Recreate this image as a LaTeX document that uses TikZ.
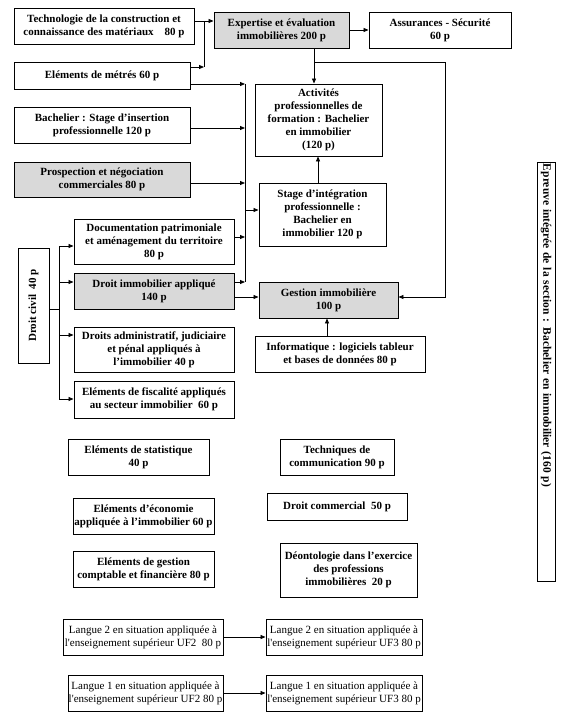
\documentclass[tikz,border=0pt]{standalone}
\usepackage{fontspec}
\setmainfont{Liberation Serif}
\usetikzlibrary{arrows.meta}
\tikzset{
  box/.style={draw, line width=0.9pt, inner sep=0pt, align=center, font=\fontsize{11}{13}\selectfont\bfseries},
  gbox/.style={box, fill=black!15},
  lbox/.style={box, font=\fontsize{11}{13}\selectfont},
  arr/.style={line width=0.8pt, -{Triangle[length=5pt,width=4pt]}},
  ln/.style={line width=0.8pt},
}
\begin{document}
\begin{tikzpicture}[x=1pt,y=-1pt]
\fill[white] (0,0) rectangle (572,719);
\useasboundingbox (0,0) rectangle (572,719);
% top row
\node[box, minimum width=180, minimum height=36] (tech) at (104,26) {Technologie de la construction et\\connaissance des matériaux\quad 80 p};
\node[gbox, minimum width=135, minimum height=36] (expert) at (281.5,30) {Expertise et évaluation\\immobilières 200 p};
\node[box, minimum width=142, minimum height=36] (assur) at (440,30) {Assurances - Sécurité\\60 p};
% left column
\node[box, minimum width=176, minimum height=27] (metres) at (102,75.5) {Eléments de métrés 60 p};
\node[box, minimum width=176, minimum height=36] (bachS) at (102,125) {Bachelier : Stage d’insertion\\professionnelle 120 p};
\node[gbox, minimum width=176, minimum height=35] (prosp) at (102,179.5) {Prospection et négociation\\commerciales 80 p};
% middle
\node[box, minimum width=127, minimum height=72] (activ) at (318.5,120) {Activités\\professionnelles de\\formation : Bachelier\\en immobilier\\(120 p)};
\node[box, minimum width=127, minimum height=63] (stage) at (322.5,214.5) {Stage d’intégration\\professionnelle :\\Bachelier en\\immobilier 120 p};
\node[gbox, minimum width=139, minimum height=36] (gestion) at (328.5,300) {Gestion immobilière\\100 p};
\node[box, minimum width=170, minimum height=36] (info) at (340,354) {Informatique : logiciels tableur\\et bases de données 80 p};
% droit civil group
\node[box, rotate=90, minimum width=115, minimum height=31] (civil) at (33.5,305.5) {Droit civil\ \ 40 p};
\node[box, minimum width=160, minimum height=45] (doc) at (154,241.5) {Documentation patrimoniale\\et aménagement du territoire\\80 p};
\node[gbox, minimum width=160, minimum height=36] (droitimmo) at (154,291) {Droit immobilier appliqué\\140 p};
\node[box, minimum width=160, minimum height=45] (admin) at (154,349.5) {Droits administratif, judiciaire\\et pénal appliqués à\\l’immobilier 40 p};
\node[box, minimum width=160, minimum height=37] (fisc) at (154,399.5) {Eléments de fiscalité appliqués\\au secteur immobilier\ \ 60 p};
% epreuve
\node[box, rotate=-90, minimum width=419, minimum height=18, text width=415, align=left, font=\fontsize{11.5}{13}\selectfont\bfseries] (epreuve) at (546,371.5) {Epreuve intégrée de la section : Bachelier en immobilier (160 p)};
% lower boxes
\node[box, minimum width=141, minimum height=36] (stat) at (138.5,457) {Eléments de statistique\\40 p};
\node[box, minimum width=114, minimum height=36] (techcom) at (337,457) {Techniques de\\communication 90 p};
\node[box, minimum width=141, minimum height=36] (eco) at (143.5,516) {Eléments d’économie\\appliquée à l’immobilier 60 p};
\node[box, minimum width=140, minimum height=27] (droitcom) at (337,506.5) {Droit commercial\ \ 50 p};
\node[box, minimum width=141, minimum height=36] (gestcpt) at (143.5,569) {Eléments de gestion\\comptable et financière 80 p};
\node[box, minimum width=137, minimum height=54] (deonto) at (348.5,570) {Déontologie dans l’exercice\\des professions\\immobilières\ \ 20 p};
% langues
\node[lbox, minimum width=160, minimum height=36] (l2uf2) at (143,637) {Langue 2 en situation appliquée à\\l\textquotesingle enseignement supérieur UF2\ \ 80 p};
\node[lbox, minimum width=156, minimum height=36] (l2uf3) at (344,637) {Langue 2 en situation appliquée à\\l\textquotesingle enseignement supérieur UF3 80 p};
\node[lbox, minimum width=155, minimum height=36] (l1uf2) at (145.5,693) {Langue 1 en situation appliquée à\\l\textquotesingle enseignement supérieur UF2 80 p};
\node[lbox, minimum width=156, minimum height=36] (l1uf3) at (344,693) {Langue 1 en situation appliquée à\\l\textquotesingle enseignement supérieur UF3 80 p};
% connectors top
\coordinate (t1) at (204,21);
\coordinate (m1) at (204,67);
\draw[arr] (tech.east |- t1) -- (expert.west |- t1);
\draw[arr] (metres.east |- m1) -- (m1);
\draw[ln] (m1) -- (t1);
\draw[arr] (expert) -- (assur);
% bus
\coordinate (bT) at (245,84);
\coordinate (b1) at (245,128);
\coordinate (b2) at (245,183);
\coordinate (bs) at (245,210);
\coordinate (b3) at (245,237);
\coordinate (bB) at (245,282);
\draw[ln] (bT) -- (bB);
\draw[arr] (metres.east |- bT) -- (bT);
\draw[arr] (bachS.east |- b1) -- (b1);
\draw[arr] (prosp.east |- b2) -- (b2);
\draw[arr] (doc.east |- b3) -- (b3);
\draw[arr] (droitimmo.east |- bB) -- (bB);
\draw[arr] (bs) -- (stage.west |- bs);
% expertise outputs
\coordinate (e1) at (314,62);
\coordinate (e2) at (445,62);
\coordinate (e3) at (445,297);
\draw[arr] (expert.south -| e1) -- (activ.north -| e1);
\draw[arr] (e1) -- (e2) -- (e3) -- (gestion.east |- e3);
\coordinate (s1) at (318,0);
\draw[arr] (stage.north -| s1) -- (activ.south -| s1);
\coordinate (g1) at (0,297);
\draw[arr] (droitimmo.east |- g1) -- (gestion.west |- g1);
\coordinate (i1) at (327,0);
\draw[arr] (info.north -| i1) -- (gestion.south -| i1);
% droit civil
\coordinate (c0) at (59,309);
\coordinate (cT) at (59,246);
\coordinate (c2) at (59,282);
\coordinate (c3) at (59,335);
\coordinate (cB) at (59,399);
\draw[ln] (civil.south |- c0) -- (c0);
\draw[ln] (cT) -- (cB);
\draw[arr] (cT) -- (doc.west |- cT);
\draw[arr] (c2) -- (droitimmo.west |- c2);
\draw[arr] (c3) -- (admin.west |- c3);
\draw[arr] (cB) -- (fisc.west |- cB);
% langues
\draw[arr] (l2uf2) -- (l2uf3);
\draw[arr] (l1uf2) -- (l1uf3);
\end{tikzpicture}
\end{document}
